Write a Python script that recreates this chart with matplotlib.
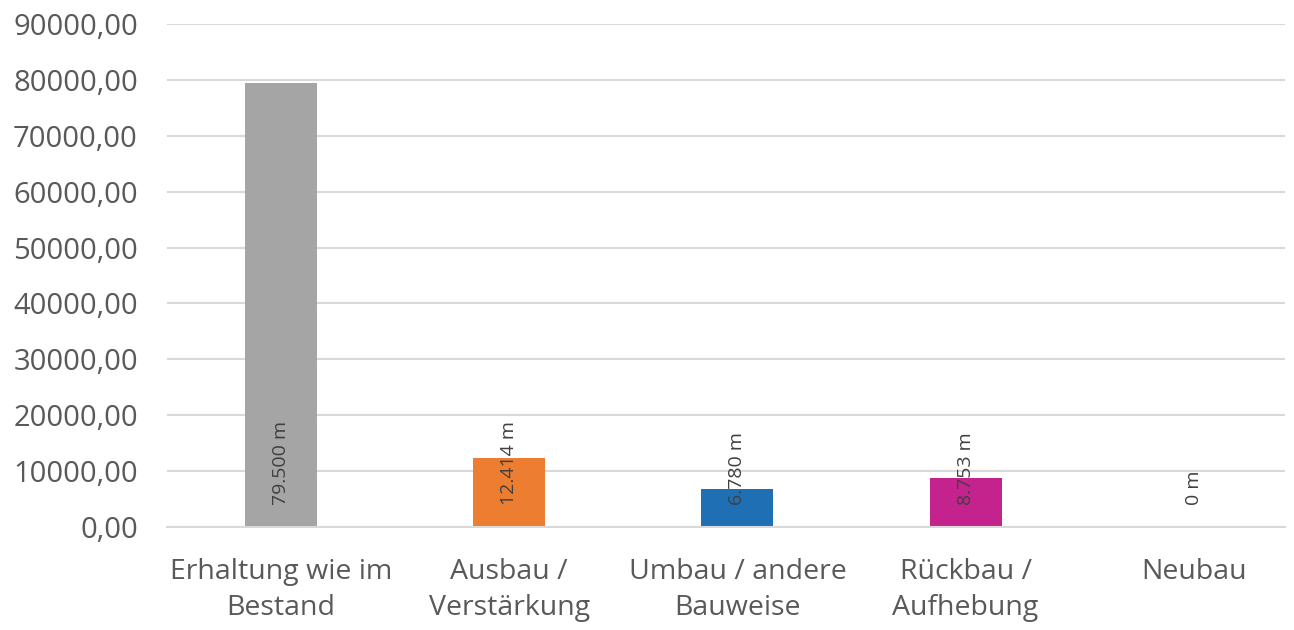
import matplotlib
matplotlib.use("Agg")
import matplotlib.pyplot as plt

categories = ["Erhaltung wie im\nBestand", "Ausbau /\nVerstärkung", "Umbau / andere\nBauweise",
              "Rückbau /\nAufhebung", "Neubau"]
laengen = [79500, 12414, 6780, 8753, 0]
labels = ["79.500 m", "12.414 m", "6.780 m", "8.753 m", "0 m"]
colors = ["#a5a5a5", "#ed7d31", "#1f6fb5", "#c4238e", "#7f7f7f"]

plt.rcParams["font.family"] = ["Open Sans", "DejaVu Sans"]

fig = plt.figure(figsize=(12.94, 6.30), dpi=100)
ax = fig.add_axes([167 / 1294, 1 - 527 / 630, (1285 - 167) / 1294, (527 - 24) / 630])

x = range(len(categories))
ax.bar(x, laengen, width=0.316, color=colors, zorder=2)

# Beschriftungen am Balkenfuß, senkrecht
for i, (v, t) in enumerate(zip(laengen, labels)):
    ax.annotate(t, (i, 0), xytext=(0, 16), textcoords="offset points",
                rotation=90, ha="center", va="bottom", fontsize=14, color="#404040", zorder=3)

ax.set_ylim(0, 90000)
ax.set_xlim(-0.5, 4.40)
ax.set_yticks(range(0, 90001, 10000))
ax.set_yticklabels([f"{v},00" for v in range(0, 90001, 10000)])
ax.set_xticks(list(x))
ax.set_xticklabels(categories, linespacing=1.42)
ax.tick_params(axis="y", length=0, pad=21, labelsize=21, labelcolor="#595959")
ax.tick_params(axis="x", length=0, pad=22, labelsize=20.5, labelcolor="#595959")
ax.grid(axis="y", color="#d9d9d9", linewidth=1.5, zorder=0)
for s in ["top", "right", "left"]:
    ax.spines[s].set_visible(False)
ax.spines["bottom"].set_color("#d9d9d9")
ax.spines["bottom"].set_linewidth(1.5)

plt.savefig("out.png", dpi=100)
